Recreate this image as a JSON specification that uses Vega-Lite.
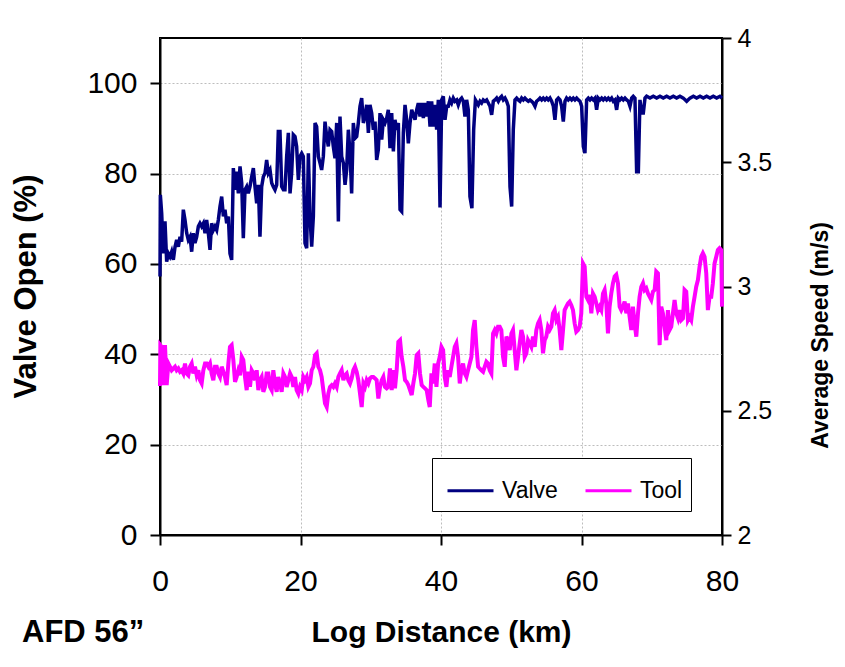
{
"$schema": "https://vega.github.io/schema/vega-lite/v6.json",
"width": 562, "height": 497,
"autosize": {"type": "none"},
"padding": {"left": 160, "top": 38, "right": 123, "bottom": 132},
"background": "white",
"config": {
  "font": "Liberation Sans",
  "view": {"stroke": "black", "strokeWidth": 2},
  "axis": {"domainColor": "black", "domainWidth": 2, "tickColor": "black", "tickWidth": 2, "labelColor": "black", "titleColor": "black", "labelFont": "Liberation Sans", "titleFont": "Liberation Sans", "gridColor": "#bdbdbd", "gridDash": [2, 2], "gridWidth": 1, "titleFontWeight": "bold", "labelFontSize": 30, "titleFontSize": 30}
},
"title": {"text": "AFD 56”", "orient": "bottom", "anchor": "start", "frame": "group", "fontSize": 31, "fontWeight": "bold", "font": "Liberation Sans", "color": "black", "dx": -138, "offset": -29},
"datasets": {
"valve": [
{"d":0,"v":57.2},{"d":0.05,"v":75.3},{"d":0.24,"v":71.2},{"d":0.47,"v":62.3},{"d":0.71,"v":69.4},{"d":0.95,"v":60.5},{"d":1.19,"v":62.3},{"d":1.42,"v":61.6},{"d":1.66,"v":62.7},{"d":1.9,"v":60.9},{"d":2.14,"v":63.8},{"d":2.37,"v":65.3},{"d":2.61,"v":63.8},{"d":2.85,"v":66.0},{"d":3.08,"v":64.9},{"d":3.32,"v":72.0},{"d":3.56,"v":69.7},{"d":3.8,"v":66.8},{"d":4.03,"v":65.3},{"d":4.27,"v":66.0},{"d":4.51,"v":62.7},{"d":4.74,"v":66.8},{"d":4.98,"v":64.6},{"d":5.22,"v":66.0},{"d":5.46,"v":68.3},{"d":5.69,"v":69.0},{"d":5.93,"v":68.3},{"d":6.17,"v":69.0},{"d":6.41,"v":66.8},{"d":6.64,"v":69.7},{"d":6.88,"v":66.8},{"d":7.12,"v":63.1},{"d":7.35,"v":69.0},{"d":7.59,"v":67.5},{"d":7.83,"v":68.3},{"d":8.07,"v":67.5},{"d":8.3,"v":69.7},{"d":8.54,"v":72.7},{"d":8.78,"v":74.9},{"d":9.02,"v":70.5},{"d":9.25,"v":72.0},{"d":9.49,"v":69.0},{"d":9.73,"v":70.5},{"d":9.96,"v":62.3},{"d":10.2,"v":60.9},{"d":10.44,"v":81.2},{"d":10.68,"v":76.4},{"d":10.91,"v":80.4},{"d":11.15,"v":75.6},{"d":11.39,"v":81.6},{"d":11.63,"v":77.9},{"d":11.86,"v":65.7},{"d":12.1,"v":76.4},{"d":12.34,"v":77.1},{"d":12.57,"v":75.6},{"d":12.81,"v":77.1},{"d":13.05,"v":79.3},{"d":13.29,"v":81.2},{"d":13.52,"v":77.1},{"d":13.76,"v":73.4},{"d":14.0,"v":77.5},{"d":14.23,"v":66.0},{"d":14.47,"v":77.1},{"d":14.71,"v":79.3},{"d":14.95,"v":80.1},{"d":15.18,"v":83.0},{"d":15.42,"v":80.1},{"d":15.66,"v":80.8},{"d":15.9,"v":77.9},{"d":16.13,"v":77.1},{"d":16.37,"v":76.4},{"d":16.61,"v":77.5},{"d":16.84,"v":89.3},{"d":17.08,"v":89.3},{"d":17.32,"v":77.1},{"d":17.56,"v":76.4},{"d":17.79,"v":76.4},{"d":18.03,"v":83.8},{"d":18.27,"v":89.0},{"d":18.51,"v":75.6},{"d":18.74,"v":80.1},{"d":18.98,"v":88.6},{"d":19.22,"v":88.2},{"d":19.45,"v":86.0},{"d":19.69,"v":78.6},{"d":19.93,"v":83.8},
{"d":20.17,"v":84.5},{"d":20.4,"v":83.8},{"d":20.64,"v":64.6},{"d":20.88,"v":63.5},{"d":21.12,"v":84.5},{"d":21.35,"v":70.5},{"d":21.59,"v":63.8},{"d":21.83,"v":70.5},{"d":22.07,"v":91.2},{"d":22.3,"v":90.4},{"d":22.54,"v":83.8},{"d":22.78,"v":82.3},{"d":23.01,"v":80.8},{"d":23.25,"v":83.8},{"d":23.49,"v":91.5},{"d":23.73,"v":88.2},{"d":23.96,"v":86.0},{"d":24.2,"v":89.7},{"d":24.44,"v":89.3},{"d":24.67,"v":86.0},{"d":24.91,"v":83.4},{"d":25.15,"v":91.2},{"d":25.39,"v":69.4},{"d":25.62,"v":92.6},{"d":25.86,"v":83.8},{"d":26.1,"v":82.3},{"d":26.34,"v":77.5},{"d":26.57,"v":80.8},{"d":26.81,"v":89.7},{"d":27.05,"v":84.5},{"d":27.28,"v":75.6},{"d":27.52,"v":91.2},{"d":27.76,"v":87.8},{"d":28.0,"v":88.2},{"d":28.23,"v":91.2},{"d":28.47,"v":94.9},{"d":28.71,"v":96.7},{"d":28.95,"v":91.2},{"d":29.18,"v":92.6},{"d":29.42,"v":95.2},{"d":29.66,"v":89.0},{"d":29.89,"v":95.2},{"d":30.13,"v":93.4},{"d":30.37,"v":89.7},{"d":30.61,"v":91.5},{"d":30.84,"v":83.0},{"d":31.08,"v":85.3},{"d":31.32,"v":93.4},{"d":31.56,"v":87.5},{"d":31.79,"v":91.9},{"d":32.03,"v":91.2},{"d":32.27,"v":92.3},{"d":32.5,"v":94.1},{"d":32.74,"v":85.6},{"d":32.98,"v":93.4},{"d":33.22,"v":84.9},{"d":33.45,"v":91.9},{"d":33.69,"v":89.7},{"d":33.93,"v":91.2},{"d":34.17,"v":72.0},{"d":34.4,"v":71.6},{"d":34.64,"v":89.0},{"d":34.88,"v":95.2},{"d":35.11,"v":91.9},{"d":35.35,"v":86.7},{"d":35.59,"v":91.2},{"d":35.83,"v":94.1},{"d":36.06,"v":93.0},{"d":36.3,"v":91.9},{"d":36.54,"v":94.1},{"d":36.77,"v":95.6},{"d":37.01,"v":92.6},{"d":37.25,"v":95.6},{"d":37.49,"v":92.3},{"d":37.72,"v":95.6},{"d":37.96,"v":92.6},{"d":38.2,"v":96.0},{"d":38.44,"v":90.4},{"d":38.67,"v":96.0},{"d":38.91,"v":90.4},{"d":39.15,"v":95.2},{"d":39.38,"v":89.7},{"d":39.62,"v":96.3},{"d":39.86,"v":72.5},{"d":40.1,"v":96.3},{"d":40.33,"v":97.1},{"d":40.57,"v":91.9},{"d":40.81,"v":94.9},
{"d":41.04,"v":94.9},{"d":41.28,"v":96.3},{"d":41.51,"v":95.6},{"d":41.75,"v":96.7},{"d":41.99,"v":96.0},{"d":42.23,"v":96.3},{"d":42.46,"v":95.2},{"d":42.7,"v":96.3},{"d":42.94,"v":96.7},{"d":43.18,"v":96.0},{"d":43.41,"v":92.6},{"d":43.65,"v":96.3},{"d":43.89,"v":94.1},{"d":44.12,"v":74.9},{"d":44.4,"v":72.3},{"d":44.65,"v":89.7},{"d":44.9,"v":96.3},{"d":45.31,"v":95.2},{"d":45.55,"v":96.0},{"d":45.78,"v":95.6},{"d":46.02,"v":96.3},{"d":46.26,"v":96.0},{"d":46.5,"v":96.3},{"d":46.73,"v":95.6},{"d":46.97,"v":94.9},{"d":47.21,"v":93.0},{"d":47.45,"v":96.0},{"d":47.68,"v":96.3},{"d":47.92,"v":96.7},{"d":48.16,"v":96.0},{"d":48.39,"v":96.7},{"d":48.63,"v":97.1},{"d":48.87,"v":96.3},{"d":49.11,"v":96.7},{"d":49.34,"v":96.0},{"d":49.58,"v":94.9},{"d":49.82,"v":77.1},{"d":50.06,"v":72.7},{"d":50.29,"v":89.7},{"d":50.53,"v":96.3},{"d":50.77,"v":96.7},{"d":51.0,"v":96.3},{"d":51.24,"v":96.0},{"d":51.48,"v":96.7},{"d":51.72,"v":96.3},{"d":51.95,"v":96.7},{"d":52.19,"v":96.3},{"d":52.43,"v":96.0},{"d":52.67,"v":96.3},{"d":52.9,"v":96.0},{"d":53.14,"v":95.6},{"d":53.38,"v":94.9},{"d":53.61,"v":96.0},{"d":53.85,"v":96.3},{"d":54.09,"v":96.7},{"d":54.33,"v":96.3},{"d":54.56,"v":96.7},{"d":54.8,"v":96.3},{"d":55.04,"v":96.7},{"d":55.27,"v":96.3},{"d":55.51,"v":96.7},{"d":55.75,"v":96.0},{"d":55.99,"v":94.9},{"d":56.22,"v":91.9},{"d":56.46,"v":96.3},{"d":56.7,"v":96.7},{"d":56.94,"v":96.3},{"d":57.17,"v":94.9},{"d":57.41,"v":91.5},{"d":57.65,"v":96.0},{"d":57.88,"v":96.7},{"d":58.12,"v":96.3},{"d":58.36,"v":96.7},{"d":58.6,"v":96.3},{"d":58.83,"v":96.7},{"d":59.07,"v":96.3},{"d":59.31,"v":96.7},{"d":59.55,"v":96.3},{"d":59.78,"v":96.0},{"d":60.02,"v":94.9},{"d":60.26,"v":86.0},{"d":60.49,"v":84.5},{"d":60.73,"v":96.3},{"d":60.97,"v":96.7},{"d":61.21,"v":96.3},{"d":61.44,"v":96.7},{"d":61.68,"v":96.3},{"d":61.92,"v":96.7},{"d":62.15,"v":94.1},{"d":62.39,"v":96.7},{"d":62.63,"v":96.3},{"d":62.87,"v":96.7},{"d":63.1,"v":96.3},{"d":63.34,"v":96.7},{"d":63.58,"v":96.3},{"d":63.82,"v":96.7},{"d":64.05,"v":96.3},{"d":64.29,"v":96.7},{"d":64.53,"v":96.0},{"d":64.76,"v":96.3},{"d":65.0,"v":94.1},{"d":65.24,"v":96.7},{"d":65.48,"v":96.3},{"d":65.71,"v":96.7},{"d":65.95,"v":96.3},{"d":66.19,"v":96.7},{"d":66.43,"v":96.3},{"d":66.66,"v":96.0},{"d":66.9,"v":94.9},{"d":67.14,"v":96.7},{"d":67.37,"v":97.1},{"d":67.61,"v":96.7},{"d":67.85,"v":80.4},{"d":68.09,"v":80.4},{"d":68.32,"v":96.3},{"d":68.56,"v":93.4},{"d":68.8,"v":93.4},{"d":69.04,"v":96.7},{"d":69.27,"v":97.1},{"d":69.75,"v":96.7},{"d":70.22,"v":97.1},{"d":70.7,"v":96.7},{"d":71.17,"v":97.1},{"d":71.64,"v":96.7},{"d":72.12,"v":97.1},{"d":72.59,"v":96.7},{"d":73.07,"v":97.1},{"d":73.54,"v":96.7},{"d":74.02,"v":97.1},{"d":74.49,"v":96.7},{"d":74.97,"v":96.0},{"d":75.44,"v":96.7},{"d":75.92,"v":97.1},{"d":76.39,"v":96.7},{"d":76.87,"v":97.1},{"d":77.34,"v":96.7},{"d":77.81,"v":97.1},{"d":78.29,"v":96.7},{"d":78.76,"v":97.1},{"d":79.24,"v":96.7},{"d":79.71,"v":97.1},{"d":80.0,"v":96.7}
],
"tool": [
{"d":0,"s":2.6},{"d":0.05,"s":2.764},{"d":0.24,"s":2.757},{"d":0.47,"s":2.603},{"d":0.71,"s":2.764},{"d":0.95,"s":2.603},{"d":1.19,"s":2.69},{"d":1.42,"s":2.677},{"d":1.66,"s":2.663},{"d":1.9,"s":2.67},{"d":2.14,"s":2.677},{"d":2.37,"s":2.663},{"d":2.61,"s":2.67},{"d":2.85,"s":2.657},{"d":3.08,"s":2.663},{"d":3.32,"s":2.65},{"d":3.56,"s":2.69},{"d":3.8,"s":2.65},{"d":4.03,"s":2.643},{"d":4.27,"s":2.677},{"d":4.51,"s":2.69},{"d":4.74,"s":2.65},{"d":4.98,"s":2.677},{"d":5.22,"s":2.643},{"d":5.46,"s":2.663},{"d":5.69,"s":2.623},{"d":5.93,"s":2.61},{"d":6.17,"s":2.663},{"d":6.41,"s":2.69},{"d":6.64,"s":2.69},{"d":6.88,"s":2.677},{"d":7.12,"s":2.69},{"d":7.35,"s":2.65},{"d":7.59,"s":2.623},{"d":7.83,"s":2.677},{"d":8.07,"s":2.677},{"d":8.3,"s":2.65},{"d":8.54,"s":2.636},{"d":8.78,"s":2.677},{"d":9.02,"s":2.657},{"d":9.25,"s":2.636},{"d":9.49,"s":2.603},{"d":9.73,"s":2.69},{"d":9.96,"s":2.757},{"d":10.2,"s":2.764},{"d":10.44,"s":2.704},{"d":10.68,"s":2.616},{"d":10.91,"s":2.636},{"d":11.15,"s":2.663},{"d":11.39,"s":2.643},{"d":11.63,"s":2.717},{"d":11.86,"s":2.704},{"d":12.1,"s":2.636},{"d":12.34,"s":2.583},{"d":12.57,"s":2.657},{"d":12.81,"s":2.596},{"d":13.05,"s":2.663},{"d":13.29,"s":2.65},{"d":13.52,"s":2.623},{"d":13.76,"s":2.663},{"d":14.0,"s":2.583},{"d":14.23,"s":2.623},{"d":14.47,"s":2.636},{"d":14.71,"s":2.576},{"d":14.95,"s":2.596},{"d":15.18,"s":2.65},{"d":15.42,"s":2.65},{"d":15.66,"s":2.596},{"d":15.9,"s":2.583},{"d":16.13,"s":2.663},{"d":16.37,"s":2.61},{"d":16.61,"s":2.576},{"d":16.84,"s":2.636},{"d":17.08,"s":2.61},{"d":17.32,"s":2.576},{"d":17.56,"s":2.65},{"d":17.79,"s":2.636},{"d":18.03,"s":2.596},{"d":18.27,"s":2.623},{"d":18.51,"s":2.65},{"d":18.74,"s":2.636},{"d":18.98,"s":2.596},{"d":19.22,"s":2.636},{"d":19.45,"s":2.583},{"d":19.69,"s":2.569},{"d":19.93,"s":2.596},
{"d":20.17,"s":2.583},{"d":20.4,"s":2.636},{"d":20.64,"s":2.623},{"d":20.88,"s":2.636},{"d":21.12,"s":2.596},{"d":21.35,"s":2.61},{"d":21.59,"s":2.663},{"d":21.83,"s":2.677},{"d":22.07,"s":2.724},{"d":22.3,"s":2.731},{"d":22.54,"s":2.677},{"d":22.78,"s":2.663},{"d":23.01,"s":2.636},{"d":23.25,"s":2.583},{"d":23.49,"s":2.529},{"d":23.73,"s":2.515},{"d":23.96,"s":2.569},{"d":24.2,"s":2.596},{"d":24.44,"s":2.603},{"d":24.67,"s":2.596},{"d":24.91,"s":2.61},{"d":25.15,"s":2.596},{"d":25.39,"s":2.636},{"d":25.62,"s":2.65},{"d":25.86,"s":2.663},{"d":26.1,"s":2.623},{"d":26.34,"s":2.643},{"d":26.57,"s":2.65},{"d":26.81,"s":2.623},{"d":27.05,"s":2.61},{"d":27.28,"s":2.63},{"d":27.52,"s":2.663},{"d":27.76,"s":2.677},{"d":28.0,"s":2.656},{"d":28.23,"s":2.623},{"d":28.47,"s":2.569},{"d":28.71,"s":2.515},{"d":28.95,"s":2.61},{"d":29.18,"s":2.596},{"d":29.42,"s":2.623},{"d":29.66,"s":2.61},{"d":29.89,"s":2.63},{"d":30.13,"s":2.636},{"d":30.37,"s":2.636},{"d":30.61,"s":2.63},{"d":30.84,"s":2.623},{"d":31.08,"s":2.549},{"d":31.32,"s":2.596},{"d":31.56,"s":2.623},{"d":31.79,"s":2.636},{"d":32.03,"s":2.596},{"d":32.27,"s":2.59},{"d":32.5,"s":2.596},{"d":32.74,"s":2.67},{"d":32.98,"s":2.583},{"d":33.22,"s":2.663},{"d":33.45,"s":2.59},{"d":33.69,"s":2.663},{"d":33.93,"s":2.777},{"d":34.17,"s":2.784},{"d":34.4,"s":2.717},{"d":34.64,"s":2.677},{"d":34.88,"s":2.623},{"d":35.11,"s":2.616},{"d":35.35,"s":2.603},{"d":35.59,"s":2.583},{"d":35.83,"s":2.563},{"d":36.06,"s":2.61},{"d":36.3,"s":2.65},{"d":36.54,"s":2.724},{"d":36.77,"s":2.731},{"d":37.01,"s":2.65},{"d":37.25,"s":2.603},{"d":37.49,"s":2.596},{"d":37.72,"s":2.59},{"d":37.96,"s":2.583},{"d":38.2,"s":2.543},
{"d":38.4,"s":2.515},{"d":38.64,"s":2.65},{"d":38.87,"s":2.61},{"d":39.11,"s":2.69},{"d":39.35,"s":2.596},{"d":39.59,"s":2.69},{"d":39.82,"s":2.717},{"d":40.06,"s":2.757},{"d":40.3,"s":2.744},{"d":40.53,"s":2.636},{"d":40.77,"s":2.596},{"d":41.01,"s":2.663},{"d":41.24,"s":2.636},{"d":41.48,"s":2.677},{"d":41.72,"s":2.717},{"d":41.96,"s":2.757},{"d":42.19,"s":2.771},{"d":42.43,"s":2.717},{"d":42.67,"s":2.61},{"d":42.9,"s":2.663},{"d":43.14,"s":2.69},{"d":43.38,"s":2.65},{"d":43.62,"s":2.636},{"d":43.85,"s":2.663},{"d":44.09,"s":2.69},{"d":44.33,"s":2.717},{"d":44.56,"s":2.825},{"d":44.8,"s":2.865},{"d":45.04,"s":2.757},{"d":45.28,"s":2.677},{"d":45.51,"s":2.67},{"d":45.75,"s":2.663},{"d":45.99,"s":2.657},{"d":46.22,"s":2.677},{"d":46.46,"s":2.697},{"d":46.7,"s":2.69},{"d":46.93,"s":2.663},{"d":47.17,"s":2.65},{"d":47.41,"s":2.811},{"d":47.65,"s":2.825},{"d":47.88,"s":2.811},{"d":48.12,"s":2.838},{"d":48.36,"s":2.838},{"d":48.59,"s":2.825},{"d":48.83,"s":2.717},{"d":49.07,"s":2.677},{"d":49.31,"s":2.798},{"d":49.54,"s":2.784},{"d":49.78,"s":2.744},{"d":50.02,"s":2.811},{"d":50.25,"s":2.825},{"d":50.49,"s":2.744},{"d":50.73,"s":2.663},{"d":50.97,"s":2.717},{"d":51.2,"s":2.771},{"d":51.44,"s":2.825},{"d":51.68,"s":2.798},{"d":51.91,"s":2.717},{"d":52.15,"s":2.731},{"d":52.39,"s":2.784},{"d":52.62,"s":2.771},{"d":52.86,"s":2.757},{"d":53.1,"s":2.798},{"d":53.34,"s":2.757},{"d":53.57,"s":2.825},{"d":53.81,"s":2.851},{"d":54.05,"s":2.865},{"d":54.28,"s":2.825},{"d":54.52,"s":2.731},{"d":54.76,"s":2.784},{"d":54.99,"s":2.798},{"d":55.23,"s":2.838},{"d":55.47,"s":2.825},{"d":55.71,"s":2.838},{"d":55.94,"s":2.892},{"d":56.18,"s":2.905},{"d":56.42,"s":2.865},{"d":56.66,"s":2.878},{"d":56.89,"s":2.825},{"d":57.13,"s":2.744},{"d":57.37,"s":2.825},{"d":57.6,"s":2.905},{"d":57.84,"s":2.919},{"d":58.08,"s":2.932},{"d":58.31,"s":2.939},{"d":58.55,"s":2.925},{"d":58.79,"s":2.905},{"d":59.03,"s":2.851},{"d":59.26,"s":2.818},{"d":59.5,"s":2.825},{"d":59.74,"s":2.838},{"d":59.97,"s":2.892},{"d":60.21,"s":3.093},{"d":60.45,"s":3.08},{"d":60.69,"s":2.959},{"d":60.92,"s":2.946},{"d":61.16,"s":2.966},{"d":61.4,"s":2.892},{"d":61.63,"s":2.972},{"d":61.87,"s":2.959},{"d":62.11,"s":2.932},{"d":62.34,"s":2.905},{"d":62.58,"s":2.919},{"d":62.82,"s":2.905},{"d":63.06,"s":2.972},{"d":63.29,"s":2.986},{"d":63.53,"s":2.932},{"d":63.77,"s":2.811},{"d":64.0,"s":2.919},{"d":64.24,"s":2.972},{"d":64.48,"s":3.013},{"d":64.72,"s":3.04},{"d":64.95,"s":3.047},{"d":65.19,"s":3.013},{"d":65.43,"s":2.919},{"d":65.66,"s":2.905},{"d":65.9,"s":2.919},{"d":66.14,"s":2.939},{"d":66.38,"s":2.892},{"d":66.61,"s":2.932},{"d":66.85,"s":2.878},{"d":67.09,"s":2.825},{"d":67.32,"s":2.919},{"d":67.56,"s":2.851},{"d":67.8,"s":2.798},{"d":68.04,"s":2.892},{"d":68.27,"s":2.959},{"d":68.51,"s":2.999},{"d":68.75,"s":3.013},{"d":68.98,"s":2.986},{"d":69.22,"s":2.993},{"d":69.46,"s":2.972},{"d":69.69,"s":2.959},{"d":69.93,"s":2.946},{"d":70.17,"s":2.979},{"d":70.41,"s":2.986},{"d":70.64,"s":3.06},{"d":70.88,"s":3.053},{"d":71.12,"s":2.764},{"d":71.35,"s":2.919},{"d":71.59,"s":2.892},{"d":71.83,"s":2.838},{"d":72.07,"s":2.784},{"d":72.3,"s":2.905},{"d":72.54,"s":2.825},{"d":72.78,"s":2.838},{"d":73.01,"s":2.892},{"d":73.25,"s":2.946},{"d":73.49,"s":2.892},{"d":73.73,"s":2.872},{"d":73.96,"s":2.905},{"d":74.2,"s":2.865},{"d":74.44,"s":2.872},{"d":74.67,"s":2.986},{"d":74.91,"s":2.979},{"d":75.15,"s":2.865},{"d":75.38,"s":2.878},{"d":75.62,"s":2.865},{"d":75.86,"s":2.919},{"d":76.1,"s":2.959},{"d":76.33,"s":2.999},{"d":76.57,"s":3.026},{"d":76.81,"s":3.08},{"d":77.04,"s":3.12},{"d":77.28,"s":3.134},{"d":77.52,"s":3.12},{"d":77.76,"s":3.053},{"d":77.99,"s":2.905},{"d":78.23,"s":2.959},{"d":78.47,"s":2.959},{"d":78.7,"s":3.013},{"d":78.94,"s":3.093},{"d":79.18,"s":3.12},{"d":79.41,"s":3.147},{"d":79.65,"s":3.154},{"d":79.89,"s":3.147},{"d":80.0,"s":2.919}
]
},
"encoding": {
  "x": {"field": "d", "type": "quantitative", "scale": {"domain": [0, 80], "nice": false},
    "axis": {"values": [0, 20, 40, 60, 80], "title": "Log Distance (km)", "titleX": 281, "titleY": 106, "titleBaseline": "alphabetic", "titleAlign": "center", "tickSize": 10, "labelPadding": 21, "grid": true, "labelFlush": false}}
},
"layer": [
  {"data": {"name": "valve"},
   "mark": {"type": "line", "strokeWidth": 3.5},
   "encoding": {
     "y": {"field": "v", "type": "quantitative", "scale": {"domain": [0, 110], "nice": false},
       "axis": {"values": [0, 20, 40, 60, 80, 100], "title": "Valve Open (%)", "titleFontSize": 31, "titleAngle": 270, "titleX": -125, "titleY": 248, "titleBaseline": "alphabetic", "titleAlign": "center", "tickSize": 10, "labelPadding": 13, "grid": true}},
     "color": {"datum": "Valve", "type": "nominal",
       "scale": {"domain": ["Valve", "Tool"], "range": ["#000080", "#FF00FF"]},
       "legend": {"orient": "none", "legendX": 272, "legendY": 420, "direction": "horizontal", "title": null, "symbolType": "stroke", "symbolSize": 2116, "symbolStrokeWidth": 3, "symbolOffset": 6, "labelFontSize": 23, "labelFont": "Liberation Sans", "labelColor": "black", "strokeColor": "black", "fillColor": "white", "padding": 8, "columnPadding": 20, "labelOffset": 7}}
   }},
  {"data": {"name": "tool"},
   "mark": {"type": "line", "strokeWidth": 4},
   "encoding": {
     "y": {"field": "s", "type": "quantitative", "scale": {"domain": [2, 4], "nice": false},
       "axis": {"orient": "right", "values": [2, 2.5, 3, 3.5, 4], "format": "~g", "labelFontSize": 25, "title": "Average Speed (m/s)", "titleFontSize": 23, "titleAngle": 270, "titleX": 105, "titleY": 297, "titleBaseline": "alphabetic", "titleAlign": "center", "tickSize": 9, "labelPadding": 6, "grid": false}},
     "color": {"datum": "Tool", "type": "nominal"}
   }}
],
"resolve": {"scale": {"y": "independent"}}
}
